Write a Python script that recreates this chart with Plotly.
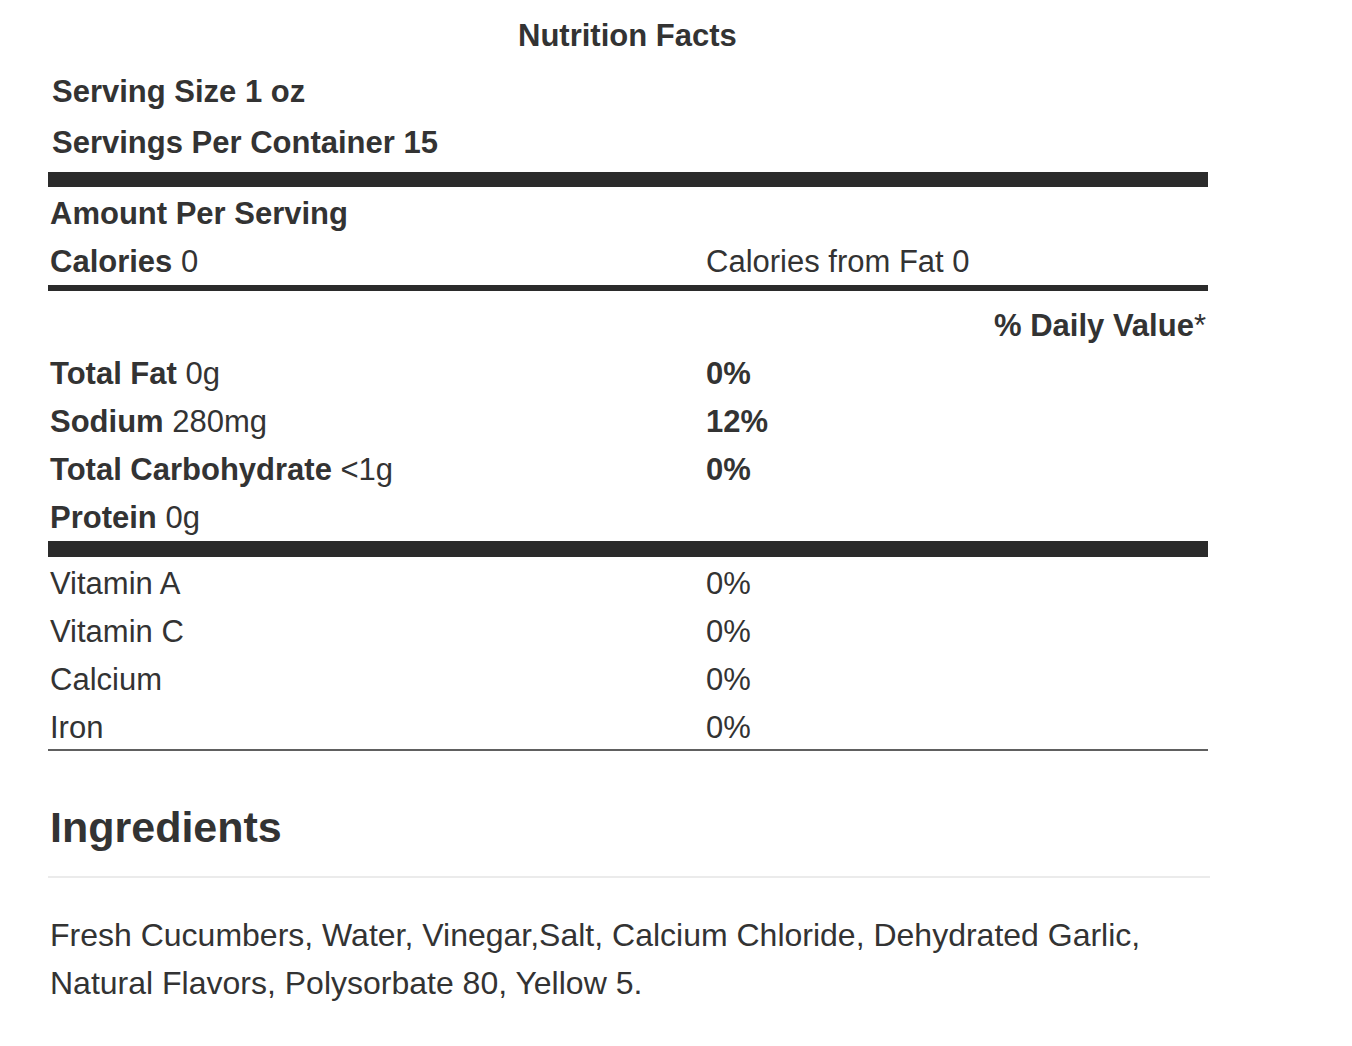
import plotly.graph_objects as go

title = "Nutrition Facts"
serving_size = "1 oz"
servings = "15"
calories = "0"
calories_fat = "0"
main_names = ["Total Fat", "Sodium", "Total Carbohydrate", "Protein"]
main_amounts = ["0g", "280mg", "<1g", "0g"]
main_dv = ["0%", "12%", "0%", ""]
vit_names = ["Vitamin A", "Vitamin C", "Calcium", "Iron"]
vit_dv = ["0%", "0%", "0%", "0%"]
ingredients_lines = ["Fresh Cucumbers, Water, Vinegar,Salt, Calcium Chloride, Dehydrated Garlic,",
                     "Natural Flavors, Polysorbate 80, Yellow 5."]

W, H = 1352, 1046
OFF = 8  # page body margin
C = "#333333"
FONT = "Liberation Sans, Arial, sans-serif"
fig = go.Figure()
ann = []
def t(x, y, s, size=32, anchor="left"):
    ann.append(dict(x=x - OFF, y=y - OFF, text=s, showarrow=False, xanchor=anchor, yanchor="middle",
                    font=dict(size=size, color=C, family=FONT), xref="x", yref="y"))

t(627, 35, f"<b>{title}</b>", 31, "center")
t(50, 91, f"<b>Serving Size {serving_size}</b>", 31)
t(50, 142, f"<b>Servings Per Container {servings}</b>", 31)
t(48, 213, "<b>Amount Per Serving</b>", 31)
t(48, 261, f"<b>Calories</b> {calories}", 31)
t(704, 261, f"Calories from Fat {calories_fat}", 31)
t(1208, 325, "<b>% Daily Value</b>*", 31, "right")
for i, (n, a, d) in enumerate(zip(main_names, main_amounts, main_dv)):
    y = 373 + 48 * i
    t(48, y, f"<b>{n}</b> {a}", 31)
    if d:
        t(704, y, f"<b>{d}</b>", 31)
for i, (n, d) in enumerate(zip(vit_names, vit_dv)):
    y = 583 + 48 * i
    t(48, y, n, 31)
    t(704, y, d, 31)
t(48, 827, "<b>Ingredients</b>", 43)
for i, line in enumerate(ingredients_lines):
    t(48, 935 + 48 * i, line, 32)

shapes = [
    dict(type="rect", x0=48, x1=1208, y0=172, y1=187, fillcolor="#2b2b2b", line_width=0),
    dict(type="rect", x0=48, x1=1208, y0=285, y1=291, fillcolor="#2b2b2b", line_width=0),
    dict(type="rect", x0=48, x1=1208, y0=541, y1=557, fillcolor="#2b2b2b", line_width=0),
    dict(type="line", x0=48, x1=1208, y0=750, y1=750, line=dict(color="#2b2b2b", width=1.5)),
    dict(type="line", x0=48, x1=1210, y0=877, y1=877, line=dict(color="#e5e5e5", width=1.5)),
]
for s in shapes:
    for k in ("x0", "x1", "y0", "y1"):
        s[k] -= OFF
    s.update(xref="x", yref="y", layer="above")

fig.update_layout(width=W, height=H, margin=dict(l=0, r=0, t=0, b=0),
                  plot_bgcolor="white", paper_bgcolor="white",
                  xaxis=dict(range=[0, W], visible=False, fixedrange=True),
                  yaxis=dict(range=[H, 0], visible=False, fixedrange=True),
                  annotations=ann, shapes=shapes, showlegend=False)
fig.write_html("out.html", config={"displayModeBar": False})
